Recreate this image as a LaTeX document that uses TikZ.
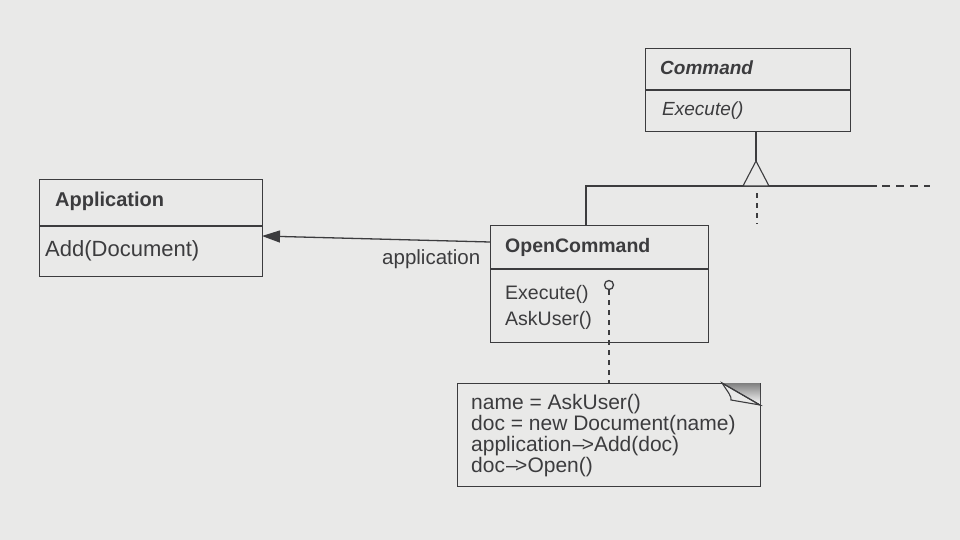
\documentclass[tikz,border=0pt]{standalone}
\usepackage{fontspec}
\setmainfont{Liberation Sans}
\usetikzlibrary{arrows.meta}
\definecolor{paper}{HTML}{E9E9E8}
\definecolor{ink}{HTML}{3C3C3E}
\definecolor{shade}{HTML}{B0B0B0}
\tikzset{
  box/.style={draw=ink, line width=1.1pt, fill=paper, inner sep=0pt, anchor=north west},
  txt/.style={text=ink, inner sep=0pt, anchor=base west},
  line/.style={draw=ink, line width=1.1pt},
  dline/.style={draw=ink, line width=1.1pt, dash pattern=on 5pt off 5pt},
}
\newcommand{\fs}[1]{\fontsize{#1}{#1}\selectfont}
\newcommand{\arr}{\kern1pt\textendash\kern-2.5pt>}
\begin{document}
\begin{tikzpicture}[x=1pt,y=-1pt]
\fill[paper] (0,0) rectangle (960,540);
\useasboundingbox (0,0) rectangle (960,540);

% Command
\node[box, minimum width=205pt, minimum height=83pt] (cmd) at (645,48) {};
\draw[line] (645,90) -- (850,90);
\node[txt] (cmdt) at (660,75) {\fs{19}\bfseries\itshape Command};
\node[txt] (cmde) at (662,116) {\fs{19}\itshape Execute()};

% Application
\node[box, minimum width=223pt, minimum height=97pt] (app) at (39,179) {};
\draw[line] (39,226) -- (262,226);
\node[txt] (appt) at (55,206) {\fs{20}\bfseries Application};
\node[txt] (appa) at (45,256) {\fs{22}Add(Document)};

% OpenCommand
\node[box, minimum width=218pt, minimum height=117pt] (oc) at (490,225) {};
\draw[line] (490,269) -- (708,269);
\node[txt] (oct) at (505,252) {\fs{19.5}\bfseries OpenCommand};
\node[txt] (oce) at (505,299) {\fs{19.5}Execute()};
\node[txt] (oca) at (505,325) {\fs{19.5}AskUser()};

% association
\coordinate (as1) at (490,242);
\coordinate (as2) at (262,236);
\draw[line, line width=1.3pt, -{Triangle[length=18pt,width=12pt]}] (as1) -- (as2);
\node[txt] (lbl) at (382,264) {\fs{20.5}application};

% hierarchy
\coordinate (hl) at (586,186);
\coordinate (hr) at (877,186);
\coordinate (hd) at (930,186);
\draw[line] (oc.north west -| hl) -- (hl) -- (hr);
\draw[line, dash pattern=on 8pt off 6pt] (hr) ++(5,0) -- (hd);
\coordinate (apex) at (756,161);
\draw[line] (cmd.south -| apex) -- (apex);
\draw[line, fill=paper] (743,186) -- (apex) -- (769,186) -- cycle;
\coordinate (sub1) at (757,193);
\coordinate (sub2) at (757,224);
\draw[dline] (sub1) -- (sub2);

% note
\node[box, minimum width=303pt, minimum height=103pt] (note) at (457,383) {};
\fill[shade] (722,383) -- (760,383) -- (760,405) -- cycle;
\draw[line, fill=paper] (722,383) .. controls (728,392) and (732,397) .. (731,400) -- (760,405) -- cycle;
\draw[line] (722,383) -- (760,405);
\node[txt] (nt) at (471,409) {\fs{21}name = AskUser()};
\node[txt] (nt2) at (471,430) {\fs{21}doc = new Document(name)};
\node[txt] (nt3) at (471,451) {\fs{21}application\arr Add(doc)};
\node[txt] (nt4) at (471,472) {\fs{21}doc\arr Open()};

% note link
\node[circle, draw=ink, line width=1.3pt, fill=paper, minimum size=9pt, inner sep=0pt] (knob) at (609,285) {};
\draw[dline] (knob.south) -- (knob.south |- note.north);
\end{tikzpicture}
\end{document}
